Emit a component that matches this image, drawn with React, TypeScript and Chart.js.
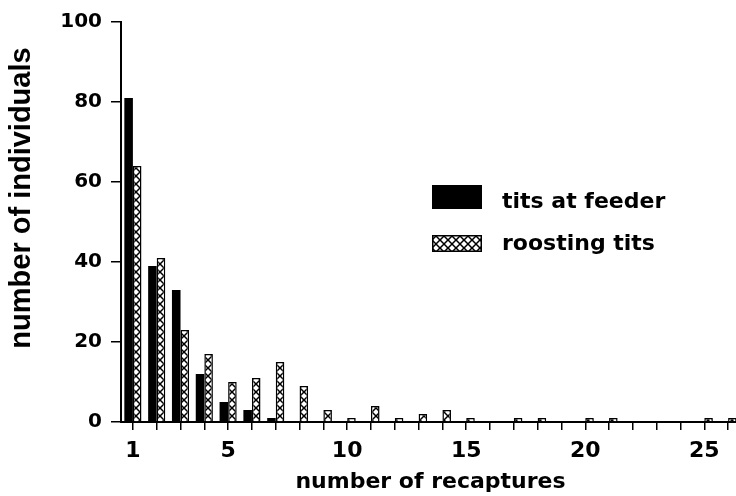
import React, { useEffect, useRef } from 'react';
import { Chart, registerables } from 'chart.js';

Chart.register(...registerables);

const CATEGORIES = ['1', '2', '3', '4', '5', '6', '7', '8', '9', '10', '11', '12', '13', '14', '15', '16', '17', '18', '19', '20', '21', '22', '23', '24', '25', '26'];
const TICK_LABELS = ['1', '5', '10', '15', '20', '25'];
const Y_TICKS = [0, 20, 40, 60, 80, 100];
const FEEDER = [81, 39, 33, 12, 5, 3, 1, 0, 0, 0, 0, 0, 0, 0, 0, 0, 0, 0, 0, 0, 0, 0, 0, 0, 0, 0];
const ROOSTING = [64, 41, 23, 17, 10, 11, 15, 9, 3, 1, 4, 1, 2, 3, 1, 0, 1, 1, 0, 1, 1, 0, 0, 0, 1, 1];
const SERIES_NAMES = ['tits at feeder', 'roosting tits'];
const X_TITLE = 'number of recaptures';
const Y_TITLE = 'number of individuals';

const FONT = 'DejaVu Sans';

function makeHatch(): CanvasPattern | string {
  const c = document.createElement('canvas');
  c.width = 8;
  c.height = 8;
  const g = c.getContext('2d');
  if (!g) return '#888';
  g.fillStyle = '#fff';
  g.fillRect(0, 0, 8, 8);
  g.strokeStyle = '#000';
  g.lineWidth = 1.5;
  g.beginPath();
  g.moveTo(-2, -2);
  g.lineTo(10, 10);
  g.moveTo(10, -2);
  g.lineTo(-2, 10);
  g.stroke();
  return g.createPattern(c, 'repeat') || '#888';
}

export default function App() {
  const ref = useRef<HTMLCanvasElement | null>(null);

  useEffect(() => {
    const canvas = ref.current;
    if (!canvas) return;
    const hatch = makeHatch();

    const overlay = {
      id: 'overlay',
      afterDraw(chart: any) {
        const ctx = chart.ctx as CanvasRenderingContext2D;
        ctx.save();
        // y axis title
        ctx.save();
        ctx.translate(22, 198);
        ctx.rotate(-Math.PI / 2);
        ctx.font = 'bold 29px "Liberation Sans"';
        ctx.textAlign = 'center';
        ctx.textBaseline = 'middle';
        ctx.fillStyle = '#000';
        ctx.fillText(Y_TITLE, 0, 0);
        ctx.restore();
        // legend
        ctx.fillStyle = '#000';
        ctx.fillRect(432, 185, 50, 24);
        ctx.fillStyle = hatch as any;
        ctx.fillRect(432, 235, 50, 17);
        ctx.strokeStyle = '#000';
        ctx.lineWidth = 1.5;
        ctx.strokeRect(432.75, 235.75, 48.5, 15.5);
        ctx.fillStyle = '#000';
        ctx.font = `bold 22px "${FONT}"`;
        ctx.textAlign = 'left';
        ctx.textBaseline = 'alphabetic';
        ctx.fillText(SERIES_NAMES[0], 502, 208);
        ctx.fillText(SERIES_NAMES[1], 502, 250);
        ctx.restore();
      },
    };

    const chart = new Chart(canvas, {
      type: 'bar',
      data: {
        labels: CATEGORIES,
        datasets: [
          {
            label: SERIES_NAMES[0],
            data: FEEDER,
            backgroundColor: '#000',
            borderColor: '#000',
            borderWidth: 0,
            categoryPercentage: 0.72,
            barPercentage: 1.0,
          },
          {
            label: SERIES_NAMES[1],
            data: ROOSTING,
            backgroundColor: hatch as any,
            borderColor: '#000',
            borderWidth: 1.5,
            categoryPercentage: 0.72,
            barPercentage: 1.0,
          },
        ],
      },
      options: {
        responsive: false,
        animation: false,
        devicePixelRatio: 1,
        layout: { padding: { top: 22, left: 0, right: 2, bottom: 0 } },
        plugins: {
          legend: { display: false },
          tooltip: { enabled: false },
        },
        scales: {
          x: {
            type: 'category',
            offset: true,
            grid: {
              display: true,
              offset: false,
              drawOnChartArea: false,
              drawTicks: true,
              tickLength: 8,
              color: '#000',
              lineWidth: 1.5,
            },
            border: { display: true, color: '#000', width: 2 },
            ticks: {
              autoSkip: false,
              maxRotation: 0,
              minRotation: 0,
              padding: 8,
              color: '#000',
              font: { family: FONT, size: 22, weight: 'bold' },
              callback: (_v: any, idx: number) =>
                TICK_LABELS.includes(CATEGORIES[idx]) ? CATEGORIES[idx] : '',
            },
            title: {
              display: true,
              text: X_TITLE,
              color: '#000',
              font: { family: FONT, size: 22, weight: 'bold' },
              padding: { top: 0, bottom: 1 },
            },
            afterFit: (scale: any) => {
              scale.height = 74;
            },
          },
          y: {
            min: 0,
            max: 100,
            afterBuildTicks: (scale: any) => {
              scale.ticks = Y_TICKS.map((v) => ({ value: v }));
            },
            grid: {
              display: true,
              drawOnChartArea: false,
              drawTicks: true,
              tickLength: 10,
              color: '#000',
              lineWidth: 1.5,
            },
            border: { display: true, color: '#000', width: 2 },
            ticks: {
              padding: 9,
              color: '#000',
              font: { family: FONT, size: 20, weight: 'bold' },
            },
            afterFit: (scale: any) => {
              scale.width = 121;
            },
          },
        },
      },
      plugins: [overlay],
    } as any);

    return () => chart.destroy();
  }, []);

  return (
    <div
      style={{
        position: 'fixed',
        left: 0,
        top: 0,
        width: 736,
        height: 496,
        overflow: 'hidden',
        background: '#fff',
      }}
    >
      <canvas ref={ref} width={742} height={496} style={{ display: 'block' }} />
    </div>
  );
}
